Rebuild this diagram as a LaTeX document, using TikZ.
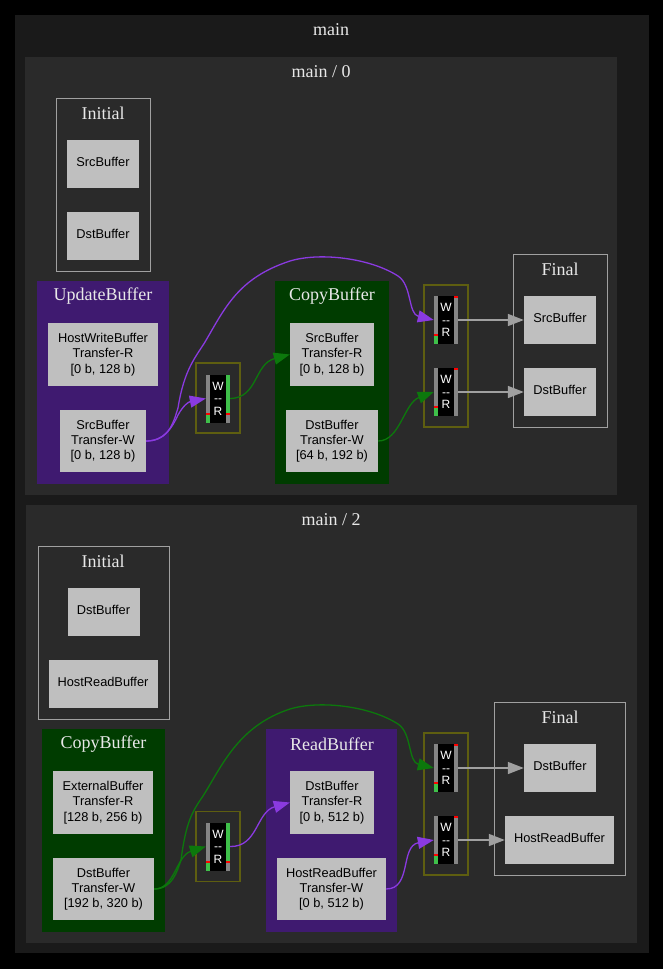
\documentclass[tikz,border=0pt]{standalone}
\usepackage{fontspec}
\setmainfont{Liberation Serif}
\setsansfont{Liberation Sans}
\usetikzlibrary{arrows.meta}
\definecolor{bgmain}{HTML}{1A1A1A}
\definecolor{bgsub}{HTML}{2A2A2A}
\definecolor{bufgray}{HTML}{BFBFBF}
\definecolor{linegray}{HTML}{A0A0A0}
\definecolor{titlegray}{HTML}{E8E8E8}
\definecolor{olive}{HTML}{5E5E10}
\definecolor{passpurple}{HTML}{3F1A70}
\definecolor{passgreen}{HTML}{003C00}
\definecolor{edgepurple}{HTML}{8A3AE0}
\definecolor{edgegreen}{HTML}{0C780C}
\definecolor{bargreen}{HTML}{3FC04A}
\definecolor{bargray}{HTML}{858585}
\tikzset{
  frame/.style={fill=#1, inner sep=0pt},
  box/.style={draw=linegray, line width=1pt, inner sep=0pt},
  guard/.style={draw=olive, line width=1.3pt, inner sep=0pt},
  title/.style={text=titlegray, font=\fontsize{18}{20}\selectfont},
  buf/.style={fill=bufgray, text=black, inner sep=0pt, align=center, font=\sffamily\fontsize{12.8}{15.3}\selectfont},
  single/.style={text height=9pt, text depth=4pt},
  cell/.style={fill=black, text=white, minimum width=24pt, minimum height=48pt, inner sep=0pt, align=center, font=\sffamily\fontsize{12}{12.5}\selectfont},
  purple edge/.style={-{Triangle[length=16pt,width=12pt]}, draw=edgepurple, line width=1.3pt},
  green edge/.style={-{Triangle[length=16pt,width=12pt]}, draw=edgegreen, line width=1.3pt},
  gray edge/.style={-{Triangle[length=16pt,width=12pt]}, draw=linegray, line width=1.6pt}
}
\newcommand{\rwcell}[4]{
\node[cell] (#1) at (#2,#3) {W\\-{}-\\R};
\fill[bargray] (#2-12,#3-24) rectangle (#2-8,#3+24);
\fill[red] (#2-12,#3+14) rectangle (#2-8,#3+16);
\fill[bargreen] (#2-12,#3+16) rectangle (#2-8,#3+24);
\fill[bargray] (#2+8,#3-24) rectangle (#2+12,#3+24);
\fill[bargreen] (#2+8,#3-24) rectangle (#2+12,#3-24+#4);
\fill[red] (#2+8,#3-24+#4) rectangle (#2+12,#3-22+#4);
}
\begin{document}
\begin{tikzpicture}[x=1pt,y=-1pt]
\useasboundingbox (0,0) rectangle (663,969);
\fill[black] (0,0) rectangle (663,969);

\node[frame=bgmain, minimum width=634pt, minimum height=938pt] (main) at (332,484) {};
\node[title] (maintitle) at (331,30) {main};
\node[frame=bgsub, minimum width=592pt, minimum height=438pt] (mainzero) at (321,276) {};
\node[title] (zerotitle) at (321,72) {main / 0};
\node[frame=bgsub, minimum width=611pt, minimum height=438pt] (maintwo) at (331.5,724) {};
\node[title] (twotitle) at (331,520) {main / 2};

\node[box, minimum width=94pt, minimum height=173pt] (initzero) at (103,184.5) {};
\node[title] (initzerotitle) at (103,113) {Initial};
\node[buf, single, minimum width=72pt, minimum height=48pt] (srcinit) at (103,164) {SrcBuffer};
\node[buf, single, minimum width=72pt, minimum height=48pt] (dstinit) at (103,236) {DstBuffer};

\node[frame=passpurple, minimum width=132pt, minimum height=203pt] (update) at (103,382.5) {};
\node[title] (updatetitle) at (103,296) {UpdateBuffer};
\node[buf, minimum width=110pt, minimum height=63pt] (hostwrite) at (103,354.5) {HostWriteBuffer\\Transfer-R\\{[0 b, 128 b)}};
\node[buf, minimum width=86pt, minimum height=62pt] (srcwrite) at (103,441) {SrcBuffer\\Transfer-W\\{[0 b, 128 b)}};

\node[guard, minimum width=44pt, minimum height=70pt] (guardzero) at (218,398) {};
\rwcell{cellzero}{218}{398.5}{38}

\node[frame=passgreen, minimum width=114pt, minimum height=203pt] (copyzero) at (332,382.5) {};
\node[title] (copyzerotitle) at (332,296) {CopyBuffer};
\node[buf, minimum width=84pt, minimum height=63pt] (srcread) at (332,354.5) {SrcBuffer\\Transfer-R\\{[0 b, 128 b)}};
\node[buf, minimum width=92pt, minimum height=62pt] (dstwrite) at (332,441) {DstBuffer\\Transfer-W\\{[64 b, 192 b)}};

\node[guard, minimum width=44pt, minimum height=142pt] (guardone) at (446,356) {};
\rwcell{cellsrc}{446}{320}{0}
\rwcell{celldst}{446}{392}{0}

\node[box, minimum width=94pt, minimum height=173pt] (finalzero) at (560,340.5) {};
\node[title] (finalzerotitle) at (560,269) {Final};
\node[buf, single, minimum width=72pt, minimum height=48pt] (srcfinal) at (560,320) {SrcBuffer};
\node[buf, single, minimum width=72pt, minimum height=48pt] (dstfinal) at (560,392) {DstBuffer};

\node[box, minimum width=131pt, minimum height=173pt] (inittwo) at (103.5,632.5) {};
\node[title] (inittwotitle) at (103,561) {Initial};
\node[buf, single, minimum width=72pt, minimum height=48pt] (dsttwoinit) at (103.5,612) {DstBuffer};
\node[buf, single, minimum width=109pt, minimum height=48pt] (hostinit) at (103,684) {HostReadBuffer};

\node[frame=passgreen, minimum width=123pt, minimum height=203pt] (copytwo) at (103.5,830.5) {};
\node[title] (copytwotitle) at (103.5,744) {CopyBuffer};
\node[buf, minimum width=100pt, minimum height=63pt] (extread) at (103,802.5) {ExternalBuffer\\Transfer-R\\{[128 b, 256 b)}};
\node[buf, minimum width=101pt, minimum height=62pt] (dsttwowrite) at (103.5,889) {DstBuffer\\Transfer-W\\{[192 b, 320 b)}};

\node[guard, minimum width=44pt, minimum height=70pt] (guardtwo) at (218,846.5) {};
\rwcell{celltwo}{218}{846.5}{38}

\node[frame=passpurple, minimum width=131pt, minimum height=203pt] (readbuf) at (331.5,830.5) {};
\node[title] (readtitle) at (332,744) {ReadBuffer};
\node[buf, minimum width=84pt, minimum height=63pt] (dstread) at (332,802.5) {DstBuffer\\Transfer-R\\{[0 b, 512 b)}};
\node[buf, minimum width=109pt, minimum height=62pt] (hostwritetwo) at (331.5,889) {HostReadBuffer\\Transfer-W\\{[0 b, 512 b)}};

\node[guard, minimum width=44pt, minimum height=142pt] (guardthree) at (446,804) {};
\rwcell{celldsttwo}{446}{768}{0}
\rwcell{cellhost}{446}{840}{0}

\node[box, minimum width=131pt, minimum height=173pt] (finaltwo) at (559.5,788.5) {};
\node[title] (finaltwotitle) at (560,717) {Final};
\node[buf, single, minimum width=72pt, minimum height=48pt] (dsttwofinal) at (560,768) {DstBuffer};
\node[buf, single, minimum width=109pt, minimum height=48pt] (hostfinal) at (559.5,840) {HostReadBuffer};

\draw[purple edge] (srcwrite.east) .. controls (164,441) and (172,428) .. (178,415) .. controls (183,406) and (188,402) .. (cellzero.west);
\draw[purple edge] (srcwrite.east) .. controls (170,441) and (174,420) .. (178,408) .. controls (184,370) and (195,358) .. (205,342) .. controls (225,308) and (238,278) .. (290,261) .. controls (320,252) and (370,258) .. (398,276) .. controls (412,285) and (408,314) .. (cellsrc.west);
\draw[green edge] (cellzero.east) .. controls (258,398) and (254,364) .. (srcread.west);
\draw[green edge] (dstwrite.east) .. controls (400,441) and (404,403) .. (celldst.west);
\draw[gray edge] (cellsrc.east) -- (srcfinal.west);
\draw[gray edge] (celldst.east) -- (dstfinal.west);

\draw[green edge] (dsttwowrite.east) .. controls (175,889) and (176,856) .. (celltwo.west);
\draw[green edge] (dsttwowrite.east) .. controls (172,889) and (177,872) .. (181,860) .. controls (186,822) and (192,812) .. (203,796) .. controls (222,766) and (238,726) .. (290,709) .. controls (320,700) and (370,706) .. (398,724) .. controls (412,733) and (408,762) .. (celldsttwo.west);
\draw[purple edge] (celltwo.east) .. controls (258,847) and (256,812) .. (dstread.west);
\draw[purple edge] (hostwritetwo.east) .. controls (412,889) and (400,846) .. (cellhost.west);
\draw[gray edge] (celldsttwo.east) -- (dsttwofinal.west);
\draw[gray edge] (cellhost.east) -- (hostfinal.west);
\end{tikzpicture}
\end{document}
